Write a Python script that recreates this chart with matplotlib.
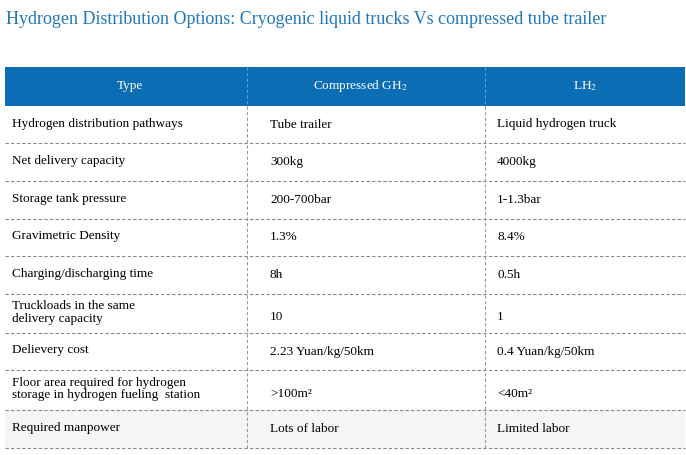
import matplotlib.pyplot as plt
from matplotlib.patches import Rectangle

plt.rcParams['font.family'] = ['Liberation Serif', 'DejaVu Serif']
plt.rcParams['mathtext.fontset'] = 'stix'

title = "Hydrogen Distribution Options: Cryogenic liquid trucks Vs compressed tube trailer"
headers = ["Type", "Compressed GH$_2$", "LH$_2$"]
row_labels = [
    "Hydrogen distribution pathways",
    "Net delivery capacity",
    "Storage tank pressure",
    "Gravimetric Density",
    "Charging/discharging time",
    "Truckloads in the same\ndelivery capacity",
    "Delievery cost",
    "Floor area required for hydrogen\nstorage in hydrogen fueling  station",
    "Required manpower",
]
gh2_values = ["Tube trailer", "300kg", "200-700bar", "1.3%", "8h", "10",
              "2.23 Yuan/kg/50km", ">100m²", "Lots of labor"]
lh2_values = ["Liquid hydrogen truck", "4000kg", "1-1.3bar", "8.4%", "0.5h", "1",
              "0.4 Yuan/kg/50km", "<40m²", "Limited labor"]

W, H = 686, 455
fig = plt.figure(figsize=(W / 100, H / 100), dpi=100)
ax = fig.add_axes([0, 0, 1, 1])
ax.set_xlim(0, W)
ax.set_ylim(H, 0)
ax.axis('off')

blue = '#0b6db4'
ax.text(6, 19, title, color='#1f78b9', fontsize=13, va='center', ha='left')

left, right = 5, 685
col_x = [left, 247, 485, right]
bounds = [67, 106, 143, 181, 219, 256, 294, 333, 370, 410, 448]

ax.add_patch(Rectangle((left, bounds[0]), right - left, bounds[1] - bounds[0],
                       color=blue, lw=0))
ax.add_patch(Rectangle((left, bounds[-2]), right - left, bounds[-1] - bounds[-2],
                       color='#f5f5f5', lw=0))
for x in col_x[1:3]:
    ax.plot([x, x], [bounds[0], bounds[1]], color='#5e9fd3', lw=0.8, ls=(0, (3, 2)))
    ax.plot([x, x], [bounds[1], bounds[-1]], color='#9a9a9a', lw=0.8, ls=(0, (3, 2)))
for y in bounds[2:]:
    ax.plot([left, right], [y, y], color='#888888', lw=0.8, ls=(0, (3, 2)))

head_cx = [130, 360, 585]
yh = (bounds[0] + bounds[1]) / 2
for cx, h in zip(head_cx, headers):
    ax.text(cx, yh, h, color='white', fontsize=9.5, ha='center', va='center')

for i, (lab, g, l) in enumerate(zip(row_labels, gh2_values, lh2_values)):
    yc = (bounds[i + 1] + bounds[i + 2]) / 2
    ax.text(12, yc - 1, lab, fontsize=9.5, ha='left', va='center', linespacing=1.1)
    ax.text(270, yc + (4 if '\n' in lab else 0), g, fontsize=9.5, ha='left', va='center')
    ax.text(497, yc + (4 if '\n' in lab else 0), l, fontsize=9.5, ha='left', va='center')

fig.savefig('out.png', dpi=100)
